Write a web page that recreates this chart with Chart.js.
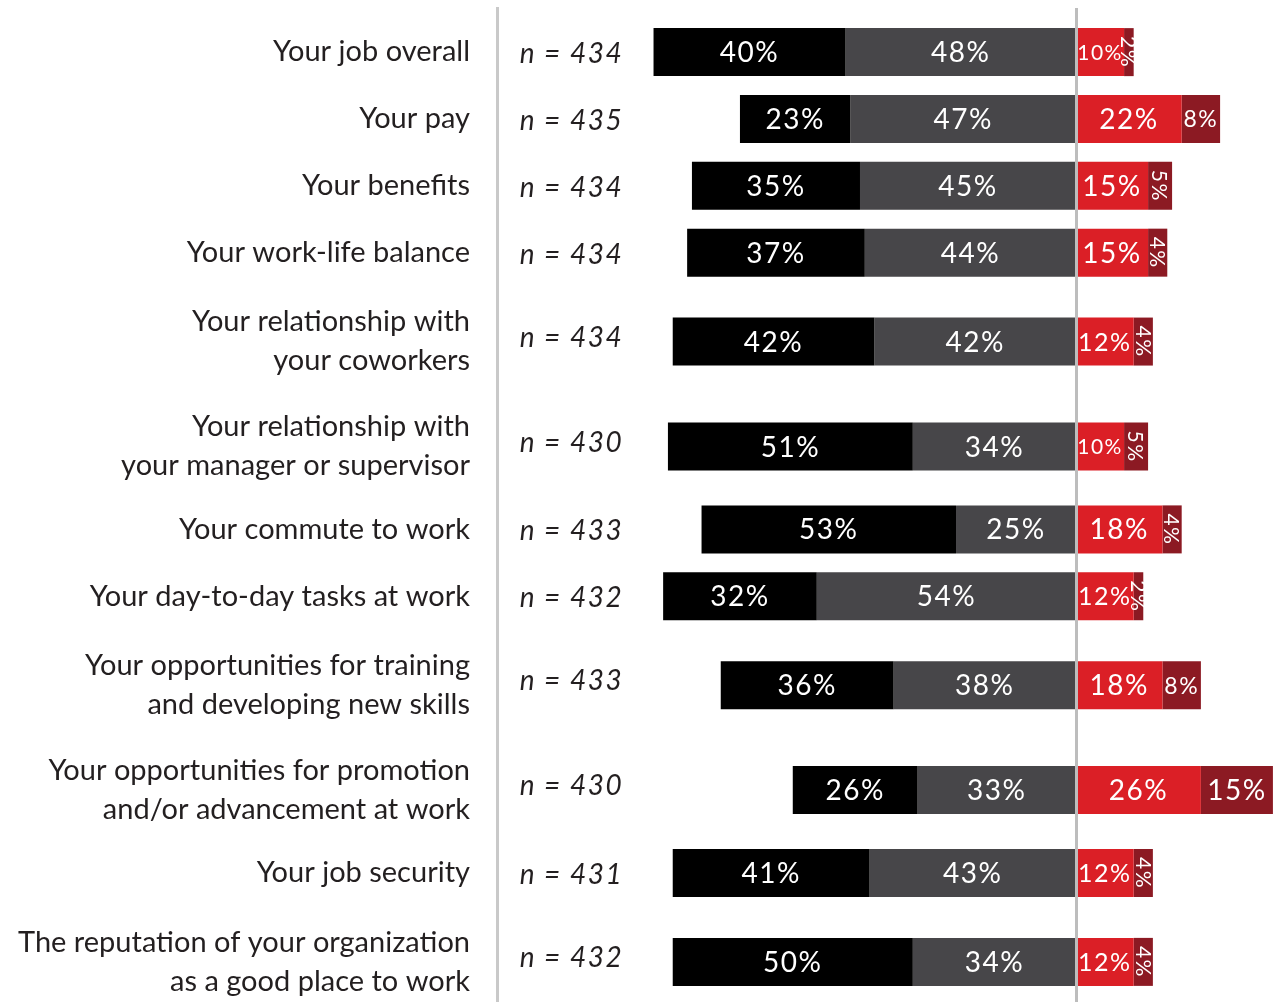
<!DOCTYPE html>
<html>
<head>
<meta charset="utf-8">
<script src="https://cdn.jsdelivr.net/npm/chart.js@4.4.1/dist/chart.umd.min.js"></script>
<style>
  body { margin: 0; background: #fff; }
  #wrap { width: 1283px; height: 1002px; position: relative; }
</style>
</head>
<body>
<div id="wrap"><canvas id="chart"></canvas></div>
<script>
// categories (one entry per row, lines of the label)
const categories = [
  ['Your job overall'],
  ['Your pay'],
  ['Your benefits'],
  ['Your work-life balance'],
  ['Your relationship with', 'your coworkers'],
  ['Your relationship with', 'your manager or supervisor'],
  ['Your commute to work'],
  ['Your day-to-day tasks at work'],
  ['Your opportunities for training', 'and developing new skills'],
  ['Your opportunities for promotion', 'and/or advancement at work'],
  ['Your job security'],
  ['The reputation of your organization', 'as a good place to work']
];
const sampleSizes = [434, 435, 434, 434, 434, 430, 433, 432, 433, 430, 431, 432];
const verySatisfied = [40, 23, 35, 37, 42, 51, 53, 32, 36, 26, 41, 50];
const satisfied = [48, 47, 45, 44, 42, 34, 25, 54, 38, 33, 43, 34];
const dissatisfied = [10, 22, 15, 15, 12, 10, 18, 12, 18, 26, 12, 12];
const veryDissatisfied = [2, 8, 5, 4, 4, 5, 4, 2, 8, 15, 4, 4];

// row positions: two-line labels get a bit more room around them
const rowPos = [];
let pos = 0;
categories.forEach((c, i) => {
  if (i > 0) {
    pos += 1 + (c.length > 1 ? 0.33 : 0) + (categories[i - 1].length > 1 ? 0.24 : 0);
  }
  rowPos.push(pos);
});

const seg = (fn) => categories.map((c, i) => ({ y: rowPos[i], x: fn(i) }));

const data = {
  datasets: [
    { label: 'Very satisfied', backgroundColor: '#000000',
      data: seg(i => [-(verySatisfied[i] + satisfied[i]), -satisfied[i]]), values: verySatisfied },
    { label: 'Satisfied', backgroundColor: '#474649',
      data: seg(i => [-satisfied[i], 0]), values: satisfied },
    { label: 'Dissatisfied', backgroundColor: '#db1f26',
      data: seg(i => [0, dissatisfied[i]]), values: dissatisfied },
    { label: 'Very dissatisfied', backgroundColor: '#8c1a23',
      data: seg(i => [dissatisfied[i], dissatisfied[i] + veryDissatisfied[i]]), values: veryDissatisfied }
  ]
};

// center line, n labels and percentages
const labelsPlugin = {
  id: 'labels',
  afterDatasetsDraw(chart) {
    const ctx = chart.ctx;
    const xs = chart.scales.x;
    const ys = chart.scales.y;
    const area = chart.chartArea;

    ctx.save();
    ctx.strokeStyle = '#bdbdbd';
    ctx.lineWidth = 3;
    const x0 = Math.round(xs.getPixelForValue(0)) + 0.5;
    ctx.beginPath();
    ctx.moveTo(x0, area.top);
    ctx.lineTo(x0, area.bottom);
    ctx.stroke();

    // n = ...
    ctx.fillStyle = '#231f20';
    ctx.textAlign = 'center';
    ctx.textBaseline = 'middle';
    ctx.font = 'italic 28px Lato';
    ctx.letterSpacing = '1.5px';
    const nx = xs.getPixelForValue(-105.1);
    rowPos.forEach((p, i) => {
      const off = categories[i].length > 1 ? -4 : 2;
      ctx.fillText('n = ' + sampleSizes[i], nx, ys.getPixelForValue(p) + off);
    });

    // percentages
    ctx.fillStyle = '#ffffff';
    chart.data.datasets.forEach((ds, di) => {
      const meta = chart.getDatasetMeta(di);
      meta.data.forEach((bar, i) => {
        const { x, base, y } = bar.getProps(['x', 'base', 'y'], true);
        const w = Math.abs(x - base);
        const cx = (x + base) / 2;
        const v = ds.values[i];
        const txt = v + '%';
        if (v <= 5) {
          ctx.font = '21px Lato';
          ctx.save();
          ctx.translate(cx, y);
          ctx.rotate(Math.PI / 2);
          ctx.fillText(txt, 0, 1);
          ctx.restore();
        } else {
          let size = 28;
          ctx.font = size + 'px Lato';
          const tw = ctx.measureText(txt).width;
          if (tw > w - 3) size = Math.floor(size * (w - 3) / tw);
          ctx.font = size + 'px Lato';
          ctx.fillText(txt, cx, y + 1);
        }
      });
    });
    ctx.restore();
  }
};

new Chart(document.getElementById('chart'), {
  type: 'bar',
  data: data,
  plugins: [labelsPlugin],
  options: {
    indexAxis: 'y',
    responsive: true,
    maintainAspectRatio: false,
    animation: false,
    layout: { padding: { top: 8, left: 0, right: 0, bottom: 0 } },
    datasets: { bar: { grouped: false, maxBarThickness: 48, borderWidth: 0 } },
    plugins: { legend: { display: false }, tooltip: { enabled: false } },
    scales: {
      x: { type: 'linear', display: false, min: -120.6, max: 43.1 },
      y: {
        type: 'linear',
        reverse: true,
        offset: false,
        min: -0.66,
        max: rowPos[rowPos.length - 1] + 0.6,
        grid: { display: false, offset: false },
        border: { display: true, color: '#c9c9c9', width: 3 },
        afterBuildTicks: (scale) => { scale.ticks = rowPos.map(v => ({ value: v })); },
        afterFit: (scale) => {
          scale.width = 497;
          scale.paddingTop = 0;
          scale.paddingBottom = 0;
        },
        ticks: {
          autoSkip: false,
          padding: 19,
          color: '#231f20',
          font: { family: 'Lato', size: 29, lineHeight: 1.34 },
          callback: (value, index) => categories[index]
        }
      }
    }
  }
});
</script>
</body>
</html>
